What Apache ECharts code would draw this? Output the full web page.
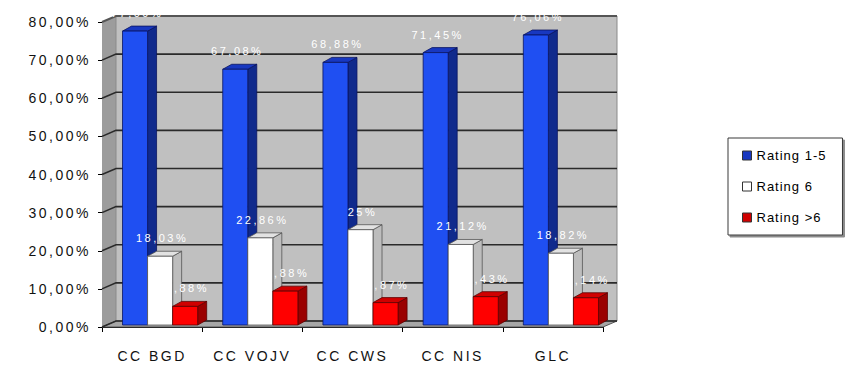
<!DOCTYPE html>
<html>
<head>
<meta charset="utf-8">
<script src="https://cdn.jsdelivr.net/npm/echarts@6/dist/echarts.min.js"></script>
<style>
  html, body { margin: 0; padding: 0; background: #ffffff; }
  #chart { width: 856px; height: 368px; }
  #chart text { letter-spacing: 2.5px; }
</style>
</head>
<body>
<div id="chart"></div>
<script>
// Share of ratings per call centre
const categories = ['CC BGD', 'CC VOJV', 'CC CWS', 'CC NIS', 'GLC'];
const rating1to5 = [77.09, 67.08, 68.88, 71.45, 76.06];
const rating6 = [18.03, 22.86, 25, 21.12, 18.82];
const ratingOver6 = [4.88, 8.88, 5.87, 7.43, 7.14];
const seriesNames = ['Rating 1-5', 'Rating 6', 'Rating >6'];

// pseudo-3D geometry
const WALL_DX = 14, WALL_DY = -6;     // depth of the chart box
const BAR_OX = 8, BAR_OY = -2;        // where the bar row sits inside the box
const BAR_DX = 9, BAR_DY = -5;        // depth of each column

const palettes = [
  { front: '#1f4ff2', side: '#102a8c', top: '#1838c0', edge: '#0a1460' },
  { front: '#ffffff', side: '#bdbdbd', top: '#e2e2e2', edge: '#555555' },
  { front: '#ff0000', side: '#9a0000', top: '#d00000', edge: '#5a0000' }
];

function fmtPct(v) {
  return (Number.isInteger(v) ? String(v) : v.toFixed(2).replace('.', ',')) + '%';
}

function wallsRender(params, api) {
  const cs = params.coordSys;
  const gx = cs.x, gy = cs.y, gw = cs.width, gh = cs.height;
  const children = [];
  // left wall
  children.push({ type: 'polygon', shape: { points: [[gx, gy], [gx + WALL_DX, gy + WALL_DY], [gx + WALL_DX, gy + gh + WALL_DY], [gx, gy + gh]] },
    style: { fill: '#9c9c9c', stroke: null } });
  // back wall
  children.push({ type: 'rect', shape: { x: gx + WALL_DX, y: gy + WALL_DY, width: gw, height: gh },
    style: { fill: '#c0c0c0', stroke: '#8a8a8a', lineWidth: 1 } });
  // floor
  children.push({ type: 'polygon', shape: { points: [[gx, gy + gh], [gx + gw, gy + gh], [gx + gw + WALL_DX, gy + gh + WALL_DY], [gx + WALL_DX, gy + gh + WALL_DY]] },
    style: { fill: '#a6a6a6', stroke: '#555555', lineWidth: 1 } });
  // gridlines on the walls
  for (let v = 0; v <= 80; v += 10) {
    const y = api.coord([0, v])[1];
    children.push({ type: 'polyline', shape: { points: [[gx, y], [gx + WALL_DX, y + WALL_DY], [gx + gw + WALL_DX, y + WALL_DY]] },
      style: { stroke: v === 80 ? '#555555' : '#2a2a2a', lineWidth: v === 80 ? 2 : 1.6, fill: null } });
  }
  return { type: 'group', children: children };
}

function makeBarRender(sIdx) {
  const p = palettes[sIdx];
  return function (params, api) {
    const cat = api.value(0), val = api.value(1);
    const base = api.coord([cat, 0]);
    const topPt = api.coord([cat, val]);
    const band = api.size([1, 0])[0];
    const bw = band * 0.25;
    const x0 = base[0] - band * 0.375 + sIdx * bw + BAR_OX;
    const x1 = x0 + bw;
    const yb = base[1] + BAR_OY, yt = topPt[1] + BAR_OY;
    return {
      type: 'group',
      children: [
        { type: 'polygon', shape: { points: [[x1, yt], [x1 + BAR_DX, yt + BAR_DY], [x1 + BAR_DX, yb + BAR_DY], [x1, yb]] },
          style: { fill: p.side, stroke: p.edge, lineWidth: 0.8 } },
        { type: 'polygon', shape: { points: [[x0, yt], [x0 + BAR_DX, yt + BAR_DY], [x1 + BAR_DX, yt + BAR_DY], [x1, yt]] },
          style: { fill: p.top, stroke: p.edge, lineWidth: 0.8 } },
        { type: 'rect', shape: { x: x0, y: yt, width: bw, height: yb - yt },
          style: { fill: p.front, stroke: p.edge, lineWidth: 0.8 } },
        { type: 'text', x: (x0 + x1) / 2 + 2, y: yt - 18,
          style: { text: fmtPct(val), fill: '#ffffff', fontSize: 11, fontFamily: 'Liberation Sans',
            align: 'center', verticalAlign: 'middle' } }
      ]
    };
  };
}

const chart = echarts.init(document.getElementById('chart'), null, { renderer: 'svg', width: 856, height: 368 });

const seriesData = [rating1to5, rating6, ratingOver6];

chart.setOption({
  animation: false,
  backgroundColor: '#ffffff',
  grid: { left: 102, right: 253, top: 22, bottom: 41, containLabel: false },
  legend: {
    data: seriesNames,
    orient: 'vertical',
    left: 728,
    top: 138,
    padding: [11, 26, 11, 14],
    itemGap: 18,
    itemWidth: 9,
    itemHeight: 9,
    icon: 'rect',
    backgroundColor: '#ffffff',
    borderColor: '#3a3a3a',
    borderWidth: 1,
    borderRadius: 0,
    shadowColor: 'rgba(0,0,0,0.45)',
    shadowOffsetX: 2,
    shadowOffsetY: 2,
    shadowBlur: 0,
    itemStyle: { borderColor: '#333333', borderWidth: 1 },
    textStyle: { fontFamily: 'Arial', fontSize: 13, color: '#000000', padding: [0, 0, 0, 0] }
  },
  xAxis: {
    type: 'category',
    data: categories,
    axisLine: { show: true, lineStyle: { color: '#000000', width: 1 } },
    axisTick: { show: true, length: 5, lineStyle: { color: '#000000' } },
    axisLabel: { fontFamily: 'Liberation Sans', fontSize: 14, color: '#111111', margin: 22 },
    splitLine: { show: false }
  },
  yAxis: {
    type: 'value',
    min: 0,
    max: 80,
    interval: 10,
    axisLine: { show: true, lineStyle: { color: '#000000', width: 1 } },
    axisTick: { show: true, length: 4, lineStyle: { color: '#000000' } },
    axisLabel: { fontFamily: 'Liberation Sans', fontSize: 14, color: '#111111', margin: 11,
      formatter: function (v) { return v.toFixed(2).replace('.', ',') + '%'; } },
    splitLine: { show: false }
  },
  series: [
    { type: 'custom', name: 'walls', data: [[0, 0]], renderItem: wallsRender, silent: true, z: 1 }
  ].concat(seriesData.map(function (vals, s) {
    return {
      type: 'custom',
      name: seriesNames[s],
      data: vals.map(function (v, i) { return [i, v]; }),
      encode: { x: 0, y: 1 },
      renderItem: makeBarRender(s),
      itemStyle: { color: palettes[s].front === '#ffffff' ? '#ffffff' : palettes[s].top },
      z: 2 + s
    };
  }))
});

// tighter tracking for legend entries
function adjustTracking() {
  document.querySelectorAll('#chart text').forEach(function (t) {
    if ((t.textContent || '').indexOf('Rating') === 0) t.style.letterSpacing = '1px';
  });
}
chart.on('finished', adjustTracking);
adjustTracking();
</script>
</body>
</html>
